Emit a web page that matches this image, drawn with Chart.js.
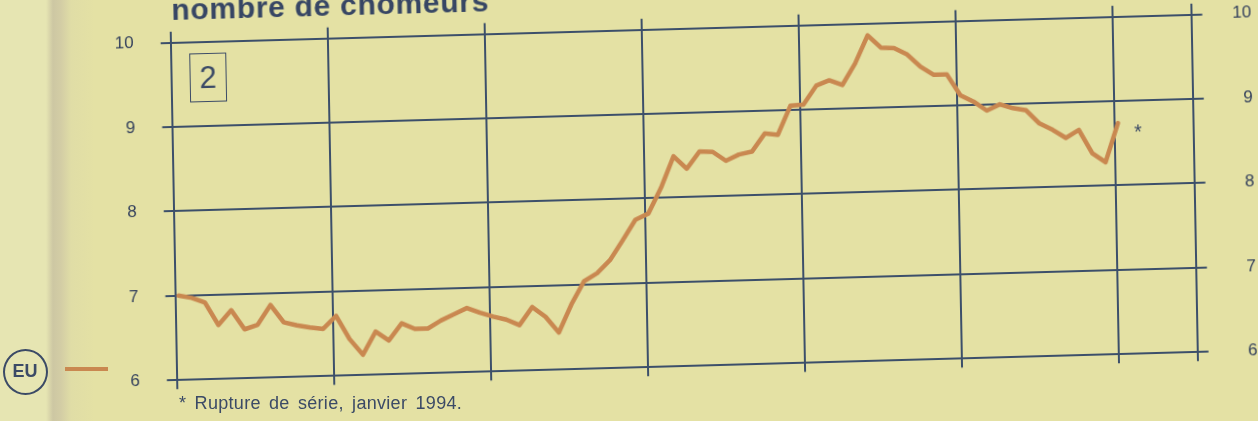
<!DOCTYPE html>
<html lang="fr">
<head>
<meta charset="utf-8">
<script src="https://cdn.jsdelivr.net/npm/chart.js@4.4.1/dist/chart.umd.min.js"></script>
<style>
html,body{margin:0;padding:0;width:1258px;height:421px;overflow:hidden;}
body{position:relative;font-family:"Liberation Sans",Arial,sans-serif;
 background:linear-gradient(to right,#e6e5b2 0px,#e6e5b2 46px,#cdc7a3 53px,#d3cda5 61px,#e0dda6 71px,#e4e1a4 95px,#e4e1a4 100%);}
#page{position:absolute;left:0;top:0;width:1258px;height:421px;transform-origin:170.7px 42.7px;transform:matrix(1,-0.0275,0.0185,1,0,0);}
#chart{position:absolute;left:0;top:0;}
#title{position:absolute;left:172px;top:-4.7px;font-weight:bold;font-size:30px;line-height:1;color:#374664;white-space:nowrap;letter-spacing:0.7px;}
#box2{position:absolute;left:188.7px;top:54.3px;width:37.4px;height:48.4px;box-sizing:border-box;border:1.6px solid #3b4a66;display:flex;align-items:center;justify-content:center;font-size:31px;color:#3b4a66;line-height:1;}
#star{position:absolute;left:1132px;top:148px;font-size:20px;line-height:1;color:#3b4a66;}
#note{position:absolute;left:179px;top:394px;font-size:18px;line-height:1;color:#3b4a66;white-space:nowrap;word-spacing:3px;letter-spacing:0.3px;}
#eu{position:absolute;left:2.5px;top:348.5px;width:45px;height:46px;box-sizing:border-box;border:2px solid #3b4a66;border-radius:50%;display:flex;align-items:center;justify-content:center;font-weight:bold;font-size:18px;color:#3b4a66;}
#euline{position:absolute;left:65px;top:367px;width:43px;height:4px;background:#c98850;}
</style>
</head>
<body>
<div id="page">
  <canvas id="chart" width="1258" height="421"></canvas>
  <div id="title">nombre de chômeurs</div>
  <div id="box2">2</div>
  <div id="star">*</div>
</div>
<div id="note">* Rupture de série, janvier 1994.</div>
<div id="eu">EU</div>
<div id="euline"></div>
<script>
// ---- data (monthly, January 1988 - January 1994) ----
const months = [
 '1988-01','1988-02','1988-03','1988-04','1988-05','1988-06','1988-07','1988-08','1988-09','1988-10','1988-11','1988-12',
 '1989-01','1989-02','1989-03','1989-04','1989-05','1989-06','1989-07','1989-08','1989-09','1989-10','1989-11','1989-12',
 '1990-01','1990-02','1990-03','1990-04','1990-05','1990-06','1990-07','1990-08','1990-09','1990-10','1990-11','1990-12',
 '1991-01','1991-02','1991-03','1991-04','1991-05','1991-06','1991-07','1991-08','1991-09','1991-10','1991-11','1991-12',
 '1992-01','1992-02','1992-03','1992-04','1992-05','1992-06','1992-07','1992-08','1992-09','1992-10','1992-11','1992-12',
 '1993-01','1993-02','1993-03','1993-04','1993-05','1993-06','1993-07','1993-08','1993-09','1993-10','1993-11','1993-12',
 '1994-01'
];
const unemployedEU = [
 7.00,6.97,6.91,6.64,6.81,6.58,6.63,6.86,6.65,6.61,6.58,6.56,
 6.71,6.43,6.24,6.51,6.40,6.60,6.53,6.53,6.62,6.69,6.76,6.70,
 6.65,6.61,6.54,6.75,6.63,6.44,6.77,7.04,7.13,7.28,7.51,7.75,
 7.82,8.12,8.49,8.34,8.54,8.53,8.42,8.49,8.52,8.73,8.71,9.05,
 9.06,9.28,9.34,9.28,9.53,9.86,9.71,9.70,9.62,9.47,9.37,9.37,
 9.12,9.04,8.93,9.00,8.95,8.92,8.76,8.68,8.58,8.67,8.39,8.28,
 8.74
];
const xGridMonths = [0,12,24,36,48,60,72,78];   // year lines + right edge
const yTickValues = [6,7,8,9,10];

// ---- styles ----
const NAVY = '#3c4f6a';
const TEXT = '#34415c';
const ORANGE = '#c98850';
const MONTH_OFFSET = 0.25;

const points = unemployedEU.map((v, i) => ({x: i + MONTH_OFFSET, y: v}));
const setXTicks = s => { s.ticks = xGridMonths.map(v => ({value: v})); };
const setYTicks = s => { s.ticks = yTickValues.map(v => ({value: v})); };
const tickFont = {family: 'Liberation Sans', size: 17};

const chart = new Chart(document.getElementById('chart'), {
  type: 'line',
  data: {
    labels: months,
    datasets: [{
      label: 'EU', data: points, borderColor: ORANGE, borderWidth: 4.5,
      pointRadius: 0, tension: 0, fill: false,
      borderJoinStyle: 'round', borderCapStyle: 'round'
    }]
  },
  options: {
    responsive: false, animation: false, devicePixelRatio: 1,
    layout: {padding: {left: 0, right: 6.3, top: 0, bottom: 0}},
    plugins: {legend: {display: false}, tooltip: {enabled: false}, title: {display: false}},
    scales: {
      x: {
        type: 'linear', position: 'bottom', min: 0, max: 78,
        afterBuildTicks: setXTicks,
        ticks: {display: false},
        grid: {color: NAVY, lineWidth: 2, tickLength: 9},
        border: {display: true, color: NAVY, width: 2},
        afterFit: s => { s.height = 40.8; }
      },
      xTop: {
        type: 'linear', position: 'top', min: 0, max: 78,
        afterBuildTicks: setXTicks,
        ticks: {display: false},
        grid: {drawOnChartArea: false, color: NAVY, lineWidth: 2, tickLength: 11},
        border: {display: false},
        afterFit: s => { s.height = 42.7; }
      },
      y: {
        position: 'left', min: 6, max: 10,
        afterBuildTicks: setYTicks,
        ticks: {font: tickFont, color: TEXT, padding: 27},
        grid: {color: NAVY, lineWidth: 2, tickLength: 10},
        border: {display: true, color: NAVY, width: 2},
        afterFit: s => { s.width = 170.7; }
      },
      yRight: {
        position: 'right', min: 6, max: 10,
        afterBuildTicks: setYTicks,
        ticks: {font: tickFont, color: TEXT, padding: 20, crossAlign: 'far'},
        grid: {drawOnChartArea: false, color: NAVY, lineWidth: 2, tickLength: 11},
        border: {display: true, color: NAVY, width: 2},
        afterFit: s => { s.width = 60; }
      }
    }
  }
});
const ca = chart.chartArea;
document.getElementById('page').style.transformOrigin = ca.left + 'px ' + ca.top + 'px';
</script>
</body>
</html>
